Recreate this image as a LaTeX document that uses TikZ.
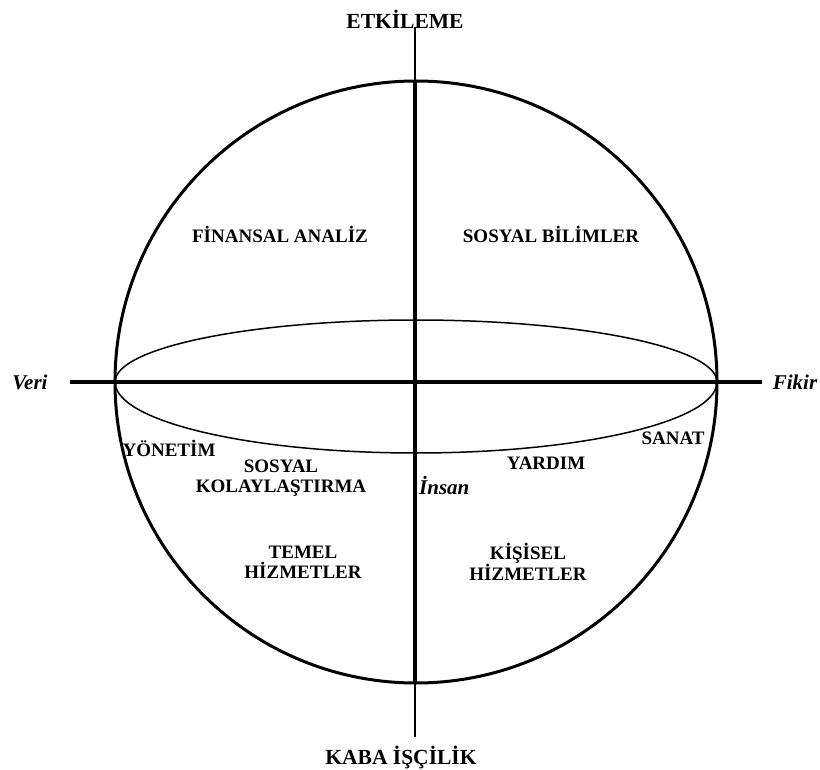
\documentclass[tikz,border=0pt]{standalone}
\usepackage{fontspec}
\setmainfont{Liberation Serif}
\begin{document}
\begin{tikzpicture}[x=1pt, y=-1pt,
  lbl/.style={font=\fontsize{19}{20}\selectfont\bfseries, align=center, inner sep=0pt},
  poletext/.style={font=\fontsize{21.5}{22}\selectfont\bfseries, inner sep=0pt},
  axislbl/.style={font=\fontsize{21}{22}\selectfont\bfseries\itshape, inner sep=0pt},
  thickaxis/.style={line width=3.6pt},
  thinaxis/.style={line width=1.4pt},
  rim/.style={line width=3pt},
  belt/.style={line width=1.5pt}]
\useasboundingbox (0,0) rectangle (820,770);

% reference points of the sphere and its axes
\coordinate (O) at (416,382);
\coordinate (axTop) at (415,27);
\coordinate (rimTop) at (415,81);
\coordinate (rimBot) at (415,683);
\coordinate (axBot) at (415,737);
\coordinate (axLeft) at (70,382);
\coordinate (axRight) at (762,382);
\coordinate (beltL) at (115,382);

% outer circle
\draw[rim] (O) circle[radius=301pt];

% equatorial ellipse (upper and lower halves)
\draw[belt] (beltL) arc[start angle=180, end angle=0, x radius=301pt, y radius=62pt];
\draw[belt] (beltL) arc[start angle=180, end angle=360, x radius=301pt, y radius=71pt];

% axes
\draw[thickaxis] (axLeft) -- (axRight);
\draw[thinaxis] (axTop) -- (rimTop);
\draw[thickaxis] (rimTop) -- (rimBot);
\draw[thinaxis] (rimBot) -- (axBot);

% axis labels
\node[poletext] (etk) at (405,19) {ETKİLEME};
\node[poletext] (kaba) at (401,757) {KABA İŞÇİLİK};
\node[axislbl] (veri) at (30,382) {Veri};
\node[axislbl] (fikir) at (795,382) {Fikir};
\node[axislbl, anchor=west] (insan) at (419,485) {İnsan};

% regions
\node[lbl] (fin) at (280,234) {FİNANSAL ANALİZ};
\node[lbl] (sos) at (551,234) {SOSYAL BİLİMLER};
\node[lbl] (yon) at (169,448) {YÖNETİM};
\node[lbl] (kol) at (281,478) {SOSYAL\\KOLAYLAŞTIRMA};
\node[lbl] (san) at (673,438) {SANAT};
\node[lbl] (yar) at (546,463) {YARDIM};
\node[lbl] (tem) at (303,562) {TEMEL\\HİZMETLER};
\node[lbl] (kis) at (528,562) {KİŞİSEL\\HİZMETLER};
\end{tikzpicture}
\end{document}
